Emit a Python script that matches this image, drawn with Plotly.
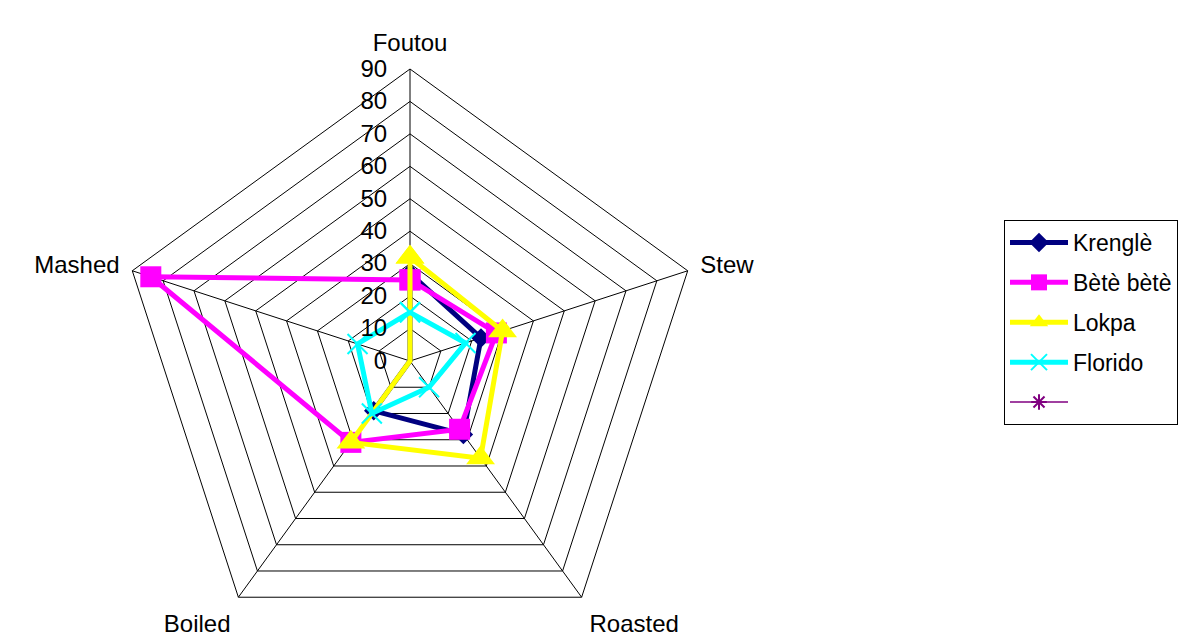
import plotly.graph_objects as go

categories = ["Foutou", "Stew", "Roasted", "Boiled", "Mashed"]
krengle = [27, 23, 28, 19, 0]
bete_bete = [25, 28, 26, 31, 84]
lokpa = [32, 30, 37, 31, 0]
florido = [15, 18, 10, 20, 17]
series_names = ["Krenglè", "Bètè bètè", "Lokpa", "Florido", " "]
radial_ticks = [0, 10, 20, 30, 40, 50, 60, 70, 80, 90]

W, H = 1186, 700
FONT = "Arial, Liberation Sans, sans-serif"
FS = 24


def closed(v):
    return list(v) + [v[0]]


theta = closed(categories)

fig = go.Figure()
styles = [
    (krengle, "#000080", dict(symbol="diamond", size=15, color="#000080")),
    (bete_bete, "#FF00FF", dict(symbol="square", size=21, color="#FF00FF")),
    (lokpa, "#FFFF00", dict(symbol="triangle-up", size=25, color="#FFFF00")),
    (florido, "#00FFFF", dict(symbol="x-thin-open", size=20, color="#00FFFF",
                              line=dict(color="#00FFFF", width=2))),
]
for i, (vals, col, mk) in enumerate(styles):
    fig.add_trace(go.Scatterpolar(
        r=closed(vals), theta=theta, mode="lines+markers",
        name=series_names[i], legendgroup=str(i),
        line=dict(color=col, width=5), marker=mk, cliponaxis=False,
    ))
fig.add_trace(go.Scatterpolar(
    r=[None], theta=[categories[0]], mode="lines+markers",
    name=series_names[4], legendgroup="4",
    line=dict(color="#800080", width=1.5),
    marker=dict(symbol="asterisk-open", size=13, color="#800080",
                line=dict(color="#800080", width=2)),
))

cx, cy, R = 410, 361, 292
fig.update_layout(
    width=W, height=H,
    margin=dict(l=0, r=0, t=0, b=0),
    paper_bgcolor="white", plot_bgcolor="white",
    font=dict(family=FONT, size=FS, color="black"),
    polar=dict(
        domain=dict(x=[(cx - R) / W, (cx + R) / W],
                    y=[(H - cy - R) / H, (H - cy + R) / H]),
        bgcolor="white",
        gridshape="linear",
        angularaxis=dict(
            rotation=90, direction="clockwise",
            categoryorder="array", categoryarray=categories,
            showline=True, linecolor="black", linewidth=1,
            showgrid=True, gridcolor="black", gridwidth=1,
            ticks="outside", ticklen=8, tickcolor="rgba(0,0,0,0)",
            tickfont=dict(family=FONT, size=FS, color="black"),
        ),
        radialaxis=dict(
            range=[0, 90], tickvals=radial_ticks, angle=90,
            side="counterclockwise", tickangle=90,
            showline=False, showgrid=True, gridcolor="black", gridwidth=1,
            ticks="outside", ticklen=14, tickcolor="rgba(0,0,0,0)",
            tickfont=dict(family=FONT, size=FS, color="black"),
        ),
    ),
    legend=dict(
        x=1004 / W, y=1 - 220 / H, xanchor="left", yanchor="top",
        bordercolor="black", borderwidth=1, bgcolor="white",
        font=dict(family=FONT, size=23, color="black"),
        tracegroupgap=7, itemwidth=58,
    ),
    showlegend=True,
)

fig.write_html("out.html", post_script=(
    "document.documentElement.style.overflow='hidden';"
    "document.body.style.overflow='hidden';"
))
